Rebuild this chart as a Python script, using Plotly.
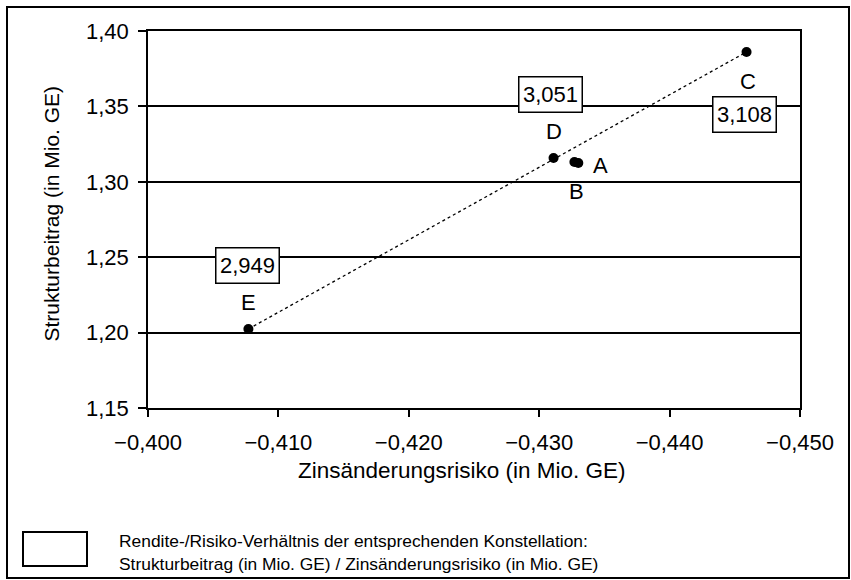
import plotly.graph_objects as go

# ---- data ----
points = ["A", "B", "C", "D", "E"]
risk = [-0.4330, -0.4327, -0.4459, -0.4311, -0.4077]      # Zinsänderungsrisiko
contrib = [1.3125, 1.3131, 1.3861, 1.3158, 1.2024]       # Strukturbeitrag
ratio_points = ["D", "C", "E"]
ratio_labels = ["3,051", "3,108", "2,949"]
x_ticks = [-0.400, -0.410, -0.420, -0.430, -0.440, -0.450]
y_ticks = [1.15, 1.20, 1.25, 1.30, 1.35, 1.40]

FONT = "Liberation Sans, Arial, sans-serif"
W, H = 851, 580
L, R, T, B = 148, 51, 31, 172
PW, PH = W - L - R, H - T - B


def px(xp, yp):
    return (xp - L) / PW, (H - B - yp) / PH


fig = go.Figure()

# dotted connection E -> C
iE, iC = points.index("E"), points.index("C")
fig.add_trace(go.Scatter(
    x=[risk[iE], risk[iC]], y=[contrib[iE], contrib[iC]],
    mode="lines", line=dict(color="black", width=1.3, dash="3px,3px"),
    hoverinfo="skip", showlegend=False))

fig.add_trace(go.Scatter(
    x=risk, y=contrib, mode="markers",
    marker=dict(color="black", size=10),
    showlegend=False))

# letter labels offsets (pixels)
letter_shift = {"A": (22, -3), "B": (2, -29), "C": (1, -30), "D": (0, 26), "E": (0, 26)}
annotations = []
for p, xv, yv in zip(points, risk, contrib):
    dx, dy = letter_shift[p]
    annotations.append(dict(x=xv, y=yv, text=p, showarrow=False, xshift=dx, yshift=dy,
                            font=dict(family=FONT, size=22, color="black")))

box_shift = {"D": (-3, 63), "C": (-2, -63), "E": (-1, 63)}
for p, lab in zip(ratio_points, ratio_labels):
    i = points.index(p)
    dx, dy = box_shift[p]
    annotations.append(dict(x=risk[i], y=contrib[i], text=lab, showarrow=False,
                            xshift=dx, yshift=dy, width=58, height=30,
                            font=dict(family=FONT, size=22, color="black"),
                            bordercolor="black", borderwidth=1.5, borderpad=2,
                            bgcolor="white"))

# axis titles
xx, yy = px(462, 485)
annotations.append(dict(xref="paper", yref="paper", x=xx, y=yy, showarrow=False,
                        text="Zinsänderungsrisiko (in Mio. GE)",
                        font=dict(family=FONT, size=22.5, color="black")))
xx, yy = px(37, 214)
annotations.append(dict(xref="paper", yref="paper", x=xx, y=yy, showarrow=False,
                        text="Strukturbeitrag (in Mio. GE)", textangle=-90,
                        font=dict(family=FONT, size=21, color="black")))

# legend note
xx, yy = px(117, 552)
annotations.append(dict(xref="paper", yref="paper", x=xx, y=yy, showarrow=False,
                        xanchor="left", yanchor="middle", align="left",
                        text="Rendite-/Risiko-Verhältnis der entsprechenden Konstellation:<br>"
                             "Strukturbeitrag (in Mio. GE) / Zinsänderungsrisiko (in Mio. GE)",
                        font=dict(family=FONT, size=17.4, color="black")))

shapes = []
x0, y0 = px(7, 7)
x1, y1 = px(849, 578)
shapes.append(dict(type="rect", xref="paper", yref="paper", x0=x0, y0=y1, x1=x1, y1=y0,
                   line=dict(color="black", width=2)))
x0, y0 = px(23, 532)
x1, y1 = px(87, 566)
shapes.append(dict(type="rect", xref="paper", yref="paper", x0=x0, y0=y1, x1=x1, y1=y0,
                   line=dict(color="black", width=2)))

fig.update_layout(
    width=W, height=H,
    margin=dict(l=L, r=R, t=T, b=B, pad=0),
    paper_bgcolor="white", plot_bgcolor="white",
    separators=", ",
    font=dict(family=FONT, size=22, color="black"),
    annotations=annotations, shapes=shapes,
    xaxis=dict(range=[-0.400, -0.450], tickvals=x_ticks, tickformat=".3f",
               showgrid=False, zeroline=False,
               showline=True, mirror=True, linecolor="black", linewidth=1.5,
               ticks="outside", ticklen=7, tickwidth=1.5, tickcolor="black",
               ticklabelstandoff=7,
               tickfont=dict(family=FONT, size=22, color="black")),
    yaxis=dict(range=[1.15, 1.40], tickvals=y_ticks, tickformat=".2f",
               showgrid=True, gridcolor="black", gridwidth=1.5, zeroline=False,
               showline=True, mirror=True, linecolor="black", linewidth=1.5,
               ticks="outside", ticklen=8, tickwidth=1.5, tickcolor="black",
               ticklabelstandoff=5,
               tickfont=dict(family=FONT, size=22, color="black")),
)

fig.write_html("out.html", config={"displayModeBar": False},
               post_script="document.body.style.margin='0';")
